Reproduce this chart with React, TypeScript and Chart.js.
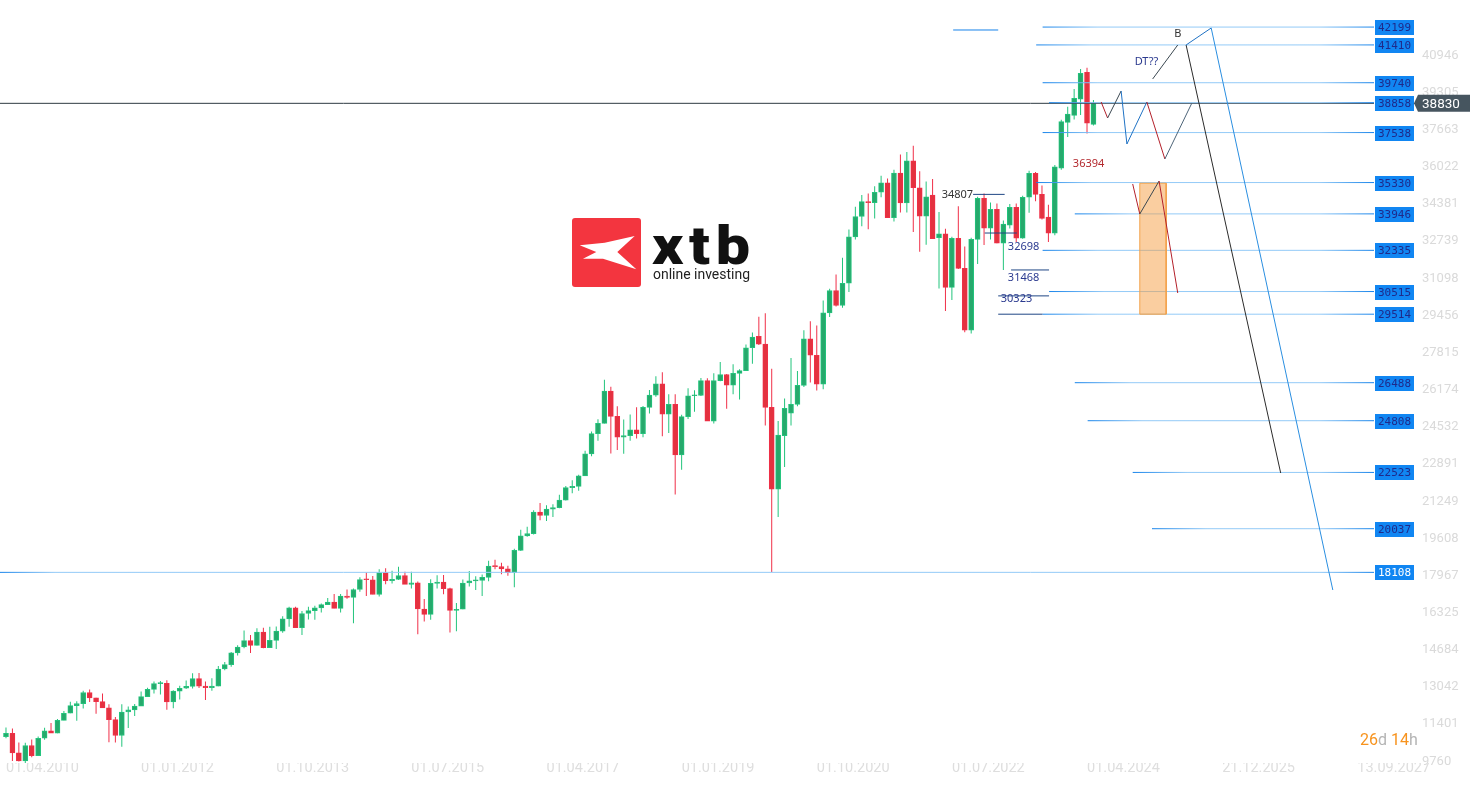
import React, { useEffect, useRef } from 'react';
import { Chart, registerables } from 'chart.js';

Chart.register(...registerables);

// ---------- data (monthly candles, index 0 = April 2010) ----------
const opens = [
  10850, 11000, 10130, 9780, 10460, 10010, 10780, 11110, 11000,
  11570, 11885, 12220, 12310, 12800, 12560, 12400, 12120, 11600, 10900, 11940, 12030,
  12200, 12620, 12940, 13195, 13205, 12380, 12860, 12990, 13070, 13420, 13080, 13010,
  13080, 13840, 14030, 14550, 14810, 15090, 14880, 15470, 14780, 15100, 15510, 16050,
  16540, 15670, 16290, 16420, 16540, 16680, 16790, 16520, 17060, 17000, 17350, 17790,
  17780, 17130, 18100, 17740, 17800, 17970, 17580, 17650, 16490, 16250, 17620, 17680,
  17390, 16430, 16480, 17640, 17730, 17750, 17890, 18390, 18360, 18260, 18100, 19080,
  19720, 19820, 20770, 20620, 20900, 20970, 21300, 21850, 21910, 22370, 23340, 24240,
  24690, 26120, 25000, 24080, 24150, 24400, 24240, 25400, 25940, 26440, 25100, 25530,
  23300, 24990, 25910, 25920, 26580, 24790, 26580, 26850, 26380, 26900, 27020, 28030,
  28540, 28190, 25400, 21780, 24150, 25140, 25530, 26370, 28430, 27700, 26420, 29570,
  30560, 29900, 30880, 32930, 33830, 34490, 34440, 34900, 35320, 33780, 35750, 34430,
  36290, 35100, 33850, 34780, 32900, 33060, 30700, 32870, 31540, 28810, 32820, 34630,
  33310, 34150, 32650, 33450, 34240, 32870, 34680, 35740, 34810, 33800, 33090, 35960,
  37990, 38300, 39010, 40200, 37900,
];
const highs = [
  11250, 11205, 10595, 10584, 10720, 10860, 11245, 11451, 11625,
  11985, 12391, 12419, 12876, 12929, 12570, 12753, 12284, 11716, 12284, 12187, 12293,
  12841, 13006, 13289, 13309, 13338, 12898, 13102, 13330, 13653, 13661, 13290, 13430,
  13969, 14150, 14585, 14888, 15542, 15340, 15634, 15658, 15709, 15722, 16174, 16588,
  16589, 16398, 16588, 16631, 16736, 16978, 17152, 17154, 17350, 17395, 17895, 18103,
  17951, 18244, 18289, 18175, 18351, 18138, 18137, 17706, 16933, 17799, 17978, 17996,
  17425, 16752, 17790, 18168, 17935, 18016, 18622, 18668, 18534, 18399, 19152, 19987,
  20125, 20852, 21169, 21071, 21113, 21535, 21929, 22179, 22420, 23485, 24327, 24876,
  26617, 26307, 25450, 24858, 25087, 25402, 25462, 26168, 26770, 26951, 25980, 25980,
  25075, 26241, 26155, 26696, 26689, 26908, 27398, 26870, 27306, 27082, 28175, 28701,
  29400, 29560, 27100, 24790, 25790, 27580, 27000, 28800, 29200, 29016, 30116, 30637,
  31272, 32010, 33259, 34257, 34777, 34849, 35171, 35631, 35510, 35892, 36566, 36680,
  36952, 35824, 35372, 35492, 34030, 33290, 32930, 34281, 32504, 32889, 34700, 34850,
  34450, 34400, 33650, 34380, 34400, 34750, 35850, 35800, 35200, 34350, 36100, 38100,
  38680, 39460, 40350, 40400, 38980,
];
const lows = [
  10780, 9775, 9757, 9614, 9936, 10010, 10712, 11011, 11000,
  11570, 11885, 11555, 12093, 12381, 11862, 12130, 10604, 10597, 10404, 11231, 11766,
  12200, 12620, 12759, 12710, 12035, 12101, 12492, 12960, 12978, 12998, 12471, 12883,
  13080, 13785, 13937, 14434, 14761, 14551, 14880, 14760, 14762, 14720, 15436, 15703,
  15650, 15340, 16024, 16015, 16332, 16663, 16520, 16334, 16945, 15855, 17247, 17067,
  17136, 17037, 17585, 17618, 17771, 17596, 17399, 15370, 15942, 16013, 17395, 17138,
  15451, 15503, 16480, 17484, 17331, 17063, 17713, 18247, 18028, 17959, 17450, 19057,
  19677, 19780, 20412, 20380, 20553, 20940, 21279, 21600, 21709, 22370, 23242, 23921,
  24690, 23360, 23509, 23344, 23918, 24017, 24077, 25123, 25866, 24122, 24268, 21550,
  22638, 24883, 25208, 25900, 24790, 24680, 26550, 25339, 25979, 25743, 27000, 27325,
  28150, 24600, 18120, 20550, 22760, 24600, 25450, 26300, 26500, 26143, 26200, 29388,
  29857, 29800, 30500, 32818, 33400, 33272, 33741, 34683, 33780, 33613, 34006, 34006,
  33150, 32272, 32578, 32850, 30650, 29650, 30140, 31509, 28715, 28661, 31727, 32573,
  32812, 32650, 31468, 33300, 32700, 32850, 34000, 34500, 33700, 32700, 33000, 35900,
  37340, 38120, 38310, 37500, 37850,
];
const closes = [
  11000, 10130, 9780, 10460, 10010, 10780, 11110, 11000, 11570,
  11885, 12220, 12310, 12800, 12560, 12400, 12120, 11600, 10900, 11940, 12030, 12200,
  12620, 12940, 13200, 13205, 12380, 12860, 12990, 13070, 13420, 13080, 13010, 13080,
  13840, 14030, 14550, 14810, 15090, 14880, 15470, 14780, 15100, 15510, 16050, 16540,
  15670, 16290, 16420, 16540, 16680, 16790, 16520, 17060, 17000, 17350, 17790, 17780,
  17130, 18100, 17740, 17800, 17970, 17580, 17650, 16490, 16250, 17620, 17680, 17390,
  16430, 16480, 17640, 17730, 17750, 17890, 18390, 18360, 18260, 18100, 19080, 19720,
  19820, 20770, 20620, 20900, 20970, 21300, 21850, 21910, 22370, 23340, 24240, 24690,
  26120, 25000, 24080, 24150, 24400, 24240, 25400, 25940, 26440, 25100, 25530, 23300,
  24990, 25910, 25920, 26580, 24790, 26580, 26850, 26380, 26900, 27020, 28030, 28500,
  28190, 25400, 21780, 24170, 25350, 25530, 26370, 28430, 27700, 26420, 29570, 30560,
  29900, 30880, 32930, 33830, 34490, 34440, 34900, 35320, 33780, 35750, 34430, 36290,
  35100, 33850, 34700, 32850, 33060, 30700, 32870, 31540, 28810, 32820, 34630, 33310,
  34150, 32650, 33500, 34240, 32870, 34680, 35740, 34810, 33750, 33090, 36030, 38020,
  38360, 39050, 40160, 37950, 38830,
];

const currentPrice = 38830;

// axis ticks
const yTickValues = [9760, 11401, 13042, 14684, 16325, 17967, 19608, 21249, 22891, 24532,
  26174, 27815, 29456, 31098, 32739, 34381, 36022, 37663, 39305, 40946];
const yTickLabels = ['9760', '11401', '13042', '14684', '16325', '17967', '19608', '21249', '22891', '24532',
  '26174', '27815', '29456', '31098', '32739', '34381', '36022', '37663', '39305', '40946'];
const xTickIdx = [0, 21, 42, 63, 84, 105, 126, 147, 168, 189, 210];
const xTickLabels = ['01.04.2010', '01.01.2012', '01.10.2013', '01.07.2015', '01.04.2017', '01.01.2019',
  '01.10.2020', '01.07.2022', '01.04.2024', '21.12.2025', '13.09.2027'];

const X_MIN = -0.93;
const X_MAX = 212.6;
const Y_MIN = 9686;
const Y_MAX = 43395;

// horizontal levels (value, start in bar index)
const levelValues = [42199, 41410, 39740, 38858, 37538, 35330, 33946, 32335, 30515, 29514, 26488, 24808, 22523, 20037, 18108];
const levelStarts = [161.1, 160.1, 161.1, 162.1, 161.1, 160.1, 166.1, 161.1, 162.1, 161.1, 166.1, 168.1, 175.1, 178.1, X_MIN];

// short navy levels
const navyValues = [34807, 33100, 31468, 30323, 29514];
const navyFrom = [150.3, 152.1, 156.2, 154.2, 154.2];
const navyTo = [155.2, 157.1, 162.1, 162.1, 161.1];

// short blue segment at top
const topSegX = [147.2, 154.2];
const topSegY = [42070, 42070];

// projected zigzag
const projX = [170.2, 171.2, 173.3, 174.2, 177.3, 180.1, 184.3];
const projY = [38889, 38182, 39375, 37033, 38889, 36370, 38845];

// orange zone and path inside it
const zoneX = [176.2, 180.3];
const zoneLow = 29514;
const zoneHigh = 35300;
const zonePathX = [175.1, 176.2, 179.2, 182.1];
const zonePathY = [35266, 33940, 35398, 30450];

// scenario lines
const dtX = [178.2, 182.1];
const dtY = [39905, 41407];
const bX = [183.4, 187.3];
const bY = [41407, 42158];
const dropBlackX = [183.4, 198.1];
const dropBlackY = [41407, 22498];
const dropBlueX = [187.3, 206.2];
const dropBlueY = [42158, 17329];

// text notes
const noteTexts = ['34807', '32698', '31468', '30323', '36394', 'DT??', 'B'];
const noteX = [150.3, 155.7, 155.7, 154.6, 165.8, 175.4, 182.1];
const noteY = [34807, 32483, 31113, 30185, 36149, 40656, 41893];

// ---------- styles ----------
const BULL_FILL = '#26a96c';
const BULL_LINE = '#22c47c';
const BEAR_FILL = '#e3323f';
const BEAR_LINE = '#f02f48';
const LEVEL_DARK = '#1683ea';
const LEVEL_LIGHT = '#93caf7';
const NAVY = '#1f4684';
const NAVY_TEXT = '#2b3a8f';
const DARK_RED = '#b3202a';
const DARK_GRAY = '#3a4750';
const BLUE = '#1f72c4';
const projColors = [DARK_RED, DARK_GRAY, BLUE, BLUE, DARK_RED, '#4d6478'];
const zonePathColors = [DARK_RED, DARK_GRAY, DARK_RED];
const noteColors = ['#333333', NAVY_TEXT, NAVY_TEXT, NAVY_TEXT, '#b3282d', NAVY_TEXT, '#333333'];
const noteAlign: CanvasTextAlign[] = ['right', 'left', 'left', 'left', 'left', 'left', 'center'];

function gradientFor(chart: any, startVal: number) {
  const area = chart.chartArea;
  const xs = chart.scales && chart.scales.x;
  if (!area || !xs) return LEVEL_DARK;
  const x1 = Math.max(area.left, xs.getPixelForValue(startVal));
  const x2 = area.right;
  const len = Math.max(x2 - x1, 1);
  const g = chart.ctx.createLinearGradient(x1, 0, x2, 0);
  const e = Math.min(55 / len, 0.45);
  g.addColorStop(0, LEVEL_DARK);
  g.addColorStop(e, LEVEL_LIGHT);
  g.addColorStop(1 - e, LEVEL_LIGHT);
  g.addColorStop(1, LEVEL_DARK);
  return g;
}

const seg = (xs: number[], ys: number[]) => xs.map((x, i) => ({ x, y: ys[i] }));

const lineBase = { type: 'line', pointRadius: 0, borderWidth: 1, fill: false, tension: 0 };

function buildDatasets() {
  const idx = closes.map((_, i) => i);
  const up = idx.map((i) => closes[i] >= opens[i]);
  const ds: any[] = [];

  // projections on top
  ds.push({ ...lineBase, order: 0, data: seg(projX, projY), borderColor: BLUE,
    segment: { borderColor: (c: any) => projColors[c.p0DataIndex] } });
  ds.push({ ...lineBase, order: 0, data: seg(zonePathX, zonePathY), borderColor: DARK_RED,
    segment: { borderColor: (c: any) => zonePathColors[c.p0DataIndex] } });
  ds.push({ ...lineBase, order: 0, data: seg(dtX, dtY), borderColor: DARK_GRAY });
  ds.push({ ...lineBase, order: 0, data: seg(bX, bY), borderColor: BLUE });
  ds.push({ ...lineBase, order: 0, data: seg(dropBlackX, dropBlackY), borderColor: '#2b2b2b' });
  ds.push({ ...lineBase, order: 0, data: seg(dropBlueX, dropBlueY), borderColor: '#2a8ee0' });

  // orange zone
  ds.push({ ...lineBase, order: 1, data: seg([zoneX[0], zoneX[0], zoneX[1], zoneX[1], zoneX[0]], [zoneLow, zoneHigh, zoneHigh, zoneLow, zoneLow]),
    borderColor: '#f3a24a' });
  ds.push({ ...lineBase, order: 1, data: seg(zoneX, [zoneHigh, zoneHigh]), borderWidth: 0,
    fill: { value: zoneLow }, backgroundColor: 'rgba(245,158,66,0.5)' });

  // current price line
  ds.push({ ...lineBase, order: 3, data: seg([X_MIN, X_MAX], [currentPrice, currentPrice]), borderColor: '#2e3a42' });

  // levels
  levelValues.forEach((v, i) => {
    ds.push({ ...lineBase, order: 2, data: seg([levelStarts[i], X_MAX], [v, v]),
      borderColor: (c: any) => gradientFor(c.chart, levelStarts[i]) });
  });
  navyValues.forEach((v, i) => {
    ds.push({ ...lineBase, order: 2, data: seg([navyFrom[i], navyTo[i]], [v, v]), borderColor: NAVY });
  });
  ds.push({ ...lineBase, order: 2, data: seg(topSegX, topSegY), borderColor: LEVEL_DARK });

  // candle bodies
  ds.push({
    type: 'bar', order: 10, grouped: false, barThickness: 5, borderWidth: 1, borderSkipped: false, minBarLength: 1,
    data: idx.map((i) => ({ x: i, y: [opens[i], closes[i]] })),
    backgroundColor: idx.map((i) => (up[i] ? BULL_FILL : BEAR_FILL)),
    borderColor: idx.map((i) => (up[i] ? BULL_LINE : BEAR_LINE)),
  });
  // wicks
  ds.push({
    type: 'bar', order: 11, grouped: false, barThickness: 1, borderWidth: 0, inflateAmount: 0,
    data: idx.map((i) => ({ x: i, y: [lows[i], highs[i]] })),
    backgroundColor: idx.map((i) => (up[i] ? BULL_LINE : BEAR_LINE)),
  });
  return ds;
}

function drawLogo(ctx: CanvasRenderingContext2D) {
  const ox = 572, oy = 218, s = 69;
  ctx.save();
  ctx.fillStyle = '#f3353f';
  ctx.beginPath();
  (ctx as any).roundRect ? (ctx as any).roundRect(ox, oy, s, s, 3) : ctx.rect(ox, oy, s, s);
  ctx.fill();
  const pts = [[7.7, 27.3], [32.7, 24.7], [62.7, 18], [45.3, 34], [64.3, 51.3], [31, 40.7], [11, 40.7], [24.3, 34]];
  ctx.fillStyle = '#ffffff';
  ctx.beginPath();
  pts.forEach(([px, py], i) => (i ? ctx.lineTo(ox + px, oy + py) : ctx.moveTo(ox + px, oy + py)));
  ctx.closePath();
  ctx.fill();

  ctx.fillStyle = '#111111';
  ctx.font = '900 54px Roboto, "DejaVu Sans", sans-serif';
  (ctx as any).letterSpacing = '5px';
  ctx.textBaseline = 'alphabetic';
  ctx.textAlign = 'left';
  const w = ctx.measureText('xtb').width - 5;
  ctx.save();
  ctx.translate(652, 264);
  ctx.scale(98 / w, 1);
  ctx.fillText('xtb', 0, 0);
  ctx.restore();
  (ctx as any).letterSpacing = '0px';
  ctx.fillStyle = '#222222';
  ctx.font = '15px Roboto, "DejaVu Sans", sans-serif';
  const w2 = ctx.measureText('online investing').width;
  ctx.save();
  ctx.translate(653, 279);
  ctx.scale(97 / w2, 1);
  ctx.fillText('online investing', 0, 0);
  ctx.restore();
  ctx.restore();
}

const overlayPlugin = {
  id: 'overlay',
  beforeDatasetsDraw(chart: any) {
    drawLogo(chart.ctx);
  },
  afterDraw(chart: any) {
    const { ctx, chartArea } = chart;
    const x = chart.scales.x;
    const y = chart.scales.y;
    ctx.save();

    // level value boxes
    ctx.font = '11px "DejaVu Sans Mono", monospace';
    ctx.textAlign = 'center';
    ctx.textBaseline = 'middle';
    const lowest = Math.min(...levelValues);
    levelValues.forEach((v) => {
      const py = Math.round(y.getPixelForValue(v));
      ctx.fillStyle = '#1186f2';
      ctx.fillRect(chartArea.right + 1, py - 7, 39, 15);
      ctx.fillStyle = v === lowest ? '#ffffff' : '#1f2a8a';
      ctx.fillText(String(v), chartArea.right + 20.5, py + 1);
    });

    // current price tag
    const cy = y.getPixelForValue(currentPrice);
    const bx = chartArea.right + 44;
    ctx.fillStyle = '#46555f';
    ctx.beginPath();
    ctx.moveTo(chartArea.right + 40, cy);
    ctx.lineTo(bx, cy - 8.5);
    ctx.lineTo(bx + 52, cy - 8.5);
    ctx.lineTo(bx + 52, cy + 8.5);
    ctx.lineTo(bx, cy + 8.5);
    ctx.closePath();
    ctx.fill();
    ctx.fillStyle = '#ffffff';
    ctx.font = '13.5px Roboto, sans-serif';
    ctx.textAlign = 'left';
    ctx.fillText(String(currentPrice), bx + 4, cy + 1);

    // notes
    ctx.font = '11px "Noto Sans", "DejaVu Sans", sans-serif';
    noteTexts.forEach((t, i) => {
      ctx.fillStyle = noteColors[i];
      ctx.textAlign = noteAlign[i];
      ctx.fillText(t, x.getPixelForValue(noteX[i]), y.getPixelForValue(noteY[i]));
    });

    // countdown
    const parts: [string, string][] = [['26', '#f7931e'], ['d', '#b4b4b4'], [' ', '#b4b4b4'], ['14', '#f7931e'], ['h', '#b4b4b4']];
    ctx.font = '16px "Liberation Sans Narrow", Roboto, sans-serif';
    ctx.textAlign = 'left';
    let tx = chartArea.right - 14;
    const ty = chartArea.bottom - 22;
    parts.forEach(([t, c]) => {
      ctx.fillStyle = c;
      ctx.fillText(t, tx, ty);
      tx += ctx.measureText(t).width;
    });
    ctx.restore();
  },
};

export default function App() {
  const ref = useRef<HTMLCanvasElement>(null);
  useEffect(() => {
    if (!ref.current) return;
    Chart.defaults.font.family = 'Roboto, "DejaVu Sans", sans-serif';
    const chart = new Chart(ref.current, {
      type: 'bar',
      data: { datasets: buildDatasets() },
      options: {
        responsive: false,
        animation: false,
        events: [],
        layout: { padding: 0 },
        plugins: { legend: { display: false }, tooltip: { enabled: false }, title: { display: false } },
        scales: {
          x: {
            type: 'linear',
            min: X_MIN,
            max: X_MAX,
            offset: false,
            grid: { display: false, drawTicks: false, offset: false },
            border: { display: false },
            ticks: {
              align: 'start',
              autoSkip: false,
              maxRotation: 0,
              minRotation: 0,
              padding: -2,
              color: '#dedede',
              font: { family: '"Liberation Sans Narrow", Roboto, sans-serif', size: 14.5, lineHeight: 1 },
              callback: (_v: any, i: number) => xTickLabels[i] ?? '',
            },
            afterBuildTicks: (s: any) => {
              s.ticks = xTickIdx.map((v) => ({ value: v }));
            },
            afterFit: (s: any) => {
              s.height = 23;
              s.paddingLeft = 0;
              s.paddingRight = 0;
            },
          },
          y: {
            type: 'linear',
            position: 'right',
            min: Y_MIN,
            max: Y_MAX,
            grid: { display: false, drawTicks: false },
            border: { display: false },
            ticks: {
              padding: 48,
              autoSkip: false,
              color: '#dadada',
              font: { family: 'Roboto, sans-serif', size: 13 },
              callback: (_v: any, i: number) => yTickLabels[i] ?? '',
            },
            afterBuildTicks: (s: any) => {
              s.ticks = yTickValues.map((v) => ({ value: v }));
            },
            afterFit: (s: any) => {
              s.width = 108;
              s.paddingTop = 0;
              s.paddingBottom = 0;
            },
          },
        },
      } as any,
      plugins: [overlayPlugin],
    } as any);
    return () => chart.destroy();
  }, []);
  return (
    <div style={{ position: 'fixed', left: 0, top: 0, width: 1482, height: 786, background: '#ffffff' }}>
      <canvas ref={ref} width={1482} height={786} style={{ display: 'block', width: 1482, height: 786 }} />
    </div>
  );
}
